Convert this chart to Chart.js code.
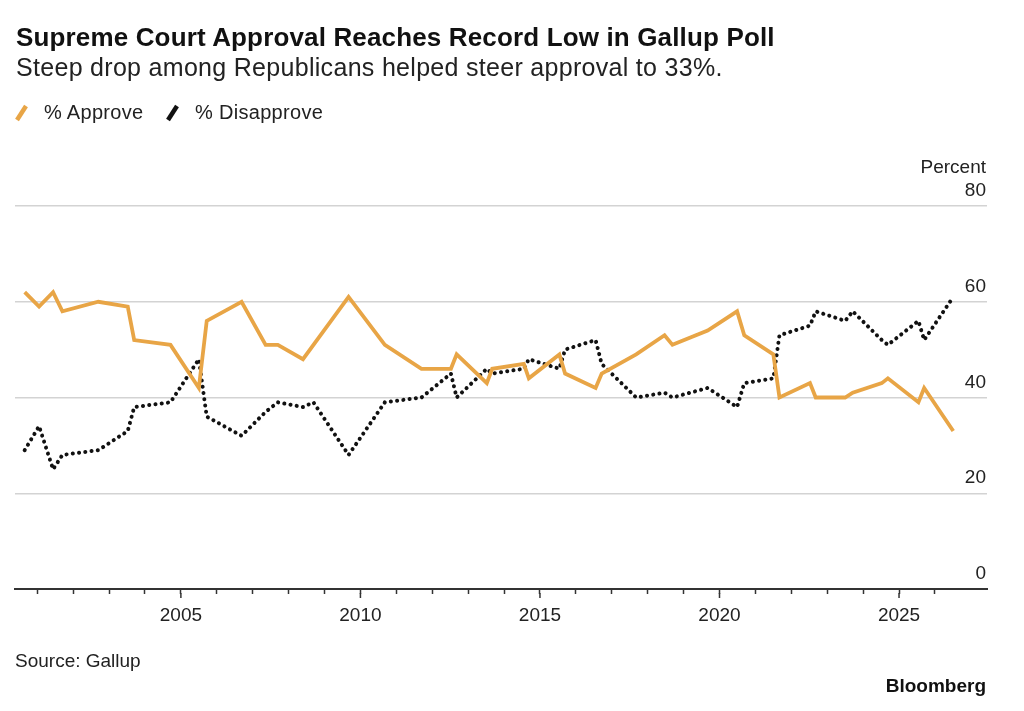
<!DOCTYPE html>
<html>
<head>
<meta charset="utf-8">
<title>Supreme Court Approval</title>
<script src="https://cdn.jsdelivr.net/npm/chart.js@4.4.1/dist/chart.umd.min.js"></script>
<style>
  body { margin: 0; background: #fff; font-family: "Liberation Sans", Arial, sans-serif; color: #111; }
  #wrap { position: relative; width: 1024px; height: 711px; overflow: hidden; }
  #chart { position: absolute; left: 0; top: 0; }
  .t { position: absolute; white-space: nowrap; z-index: 2; }
  #title { left: 16px; top: 24px; font-size: 26px; line-height: 26px; font-weight: bold; letter-spacing: 0.15px; }
  #subtitle { left: 16px; top: 55px; font-size: 25px; line-height: 25px; letter-spacing: 0.3px; color: #222; }
  .leg { top: 102px; font-size: 20px; line-height: 20px; letter-spacing: 0.3px; color: #222; }
  #source { left: 15px; top: 651px; font-size: 19px; line-height: 19px; color: #222; }
  #brand { right: 38px; top: 676px; font-size: 19px; line-height: 19px; font-weight: bold; }
  #icons { position: absolute; left: 0; top: 0; z-index: 2; }
</style>
</head>
<body>
<div id="wrap">
  <canvas id="chart" width="1024" height="711"></canvas>
  <div class="t" id="title">Supreme Court Approval Reaches Record Low in Gallup Poll</div>
  <div class="t" id="subtitle">Steep drop among Republicans helped steer approval to 33%.</div>
  <svg id="icons" width="330" height="140">
    <line x1="17" y1="120" x2="26" y2="106" stroke="#E8A546" stroke-width="4.5"/>
    <line x1="168" y1="120" x2="177" y2="106" stroke="#111" stroke-width="4.5"/>
  </svg>
  <div class="t leg" style="left:44px">% Approve</div>
  <div class="t leg" style="left:195px">% Disapprove</div>
  <div class="t" id="source">Source: Gallup</div>
  <div class="t" id="brand">Bloomberg</div>
</div>
<script>
// poll dates as decimal years
const dates = [
  2000.65, 2001.05, 2001.44, 2001.70, 2002.70, 2003.52, 2003.70, 2004.71,
  2005.50, 2005.72, 2006.69, 2007.36, 2007.70, 2008.40, 2008.69, 2009.67,
  2010.68, 2011.70, 2012.52, 2012.68, 2013.52, 2013.67, 2014.55, 2014.69,
  2015.54, 2015.70, 2016.55, 2016.72, 2017.68, 2018.47, 2018.69, 2019.67,
  2020.49, 2020.69, 2021.50, 2021.67, 2022.52, 2022.68, 2023.50, 2023.71,
  2024.52, 2024.69, 2025.54, 2025.70, 2026.51
];
const approve = [
  62, 59, 62, 58, 60, 59, 52, 51,
  42, 56, 60, 51, 51, 48, null, 61,
  51, 46, 46, 49, 43, 46, 47, 44,
  49, 45, 42, 45, 49, 53, 51, 54,
  58, 53, 49, 40, 43, 40, 40, 41,
  43, 44, 39, 42, 33
];
const disapprove = [
  29, 34, 25, 28, 29, 33, 38, 39,
  48, 36, 32, 37, 39, 38, 39, 28,
  39, 40, 45, 40, 46, 45, 46, 48,
  46, 50, 52, 47, 40, 41, 40, 42,
  38, 43, 44, 53, 55, 58, 56, 58,
  52, 51, 56, 52, 61
];
const tickYears = [
  2001, 2002, 2003, 2004, 2005, 2006, 2007, 2008, 2009, 2010, 2011, 2012, 2013,
  2014, 2015, 2016, 2017, 2018, 2019, 2020, 2021, 2022, 2023, 2024, 2025, 2026
];
const yTicks = [0, 20, 40, 60, 80];

const orange = "#E8A546";
const fontFamily = '"Liberation Sans", Arial, sans-serif';

// y labels sit above the gridlines on the right, plus longer ticks on labelled years
const axisText = {
  id: "axisText",
  afterDraw(chart) {
    const ctx = chart.ctx;
    const x = chart.scales.x;
    const y = chart.scales.y;
    const right = chart.chartArea.right - 1;
    ctx.save();
    ctx.fillStyle = "#222";
    ctx.font = "19px " + fontFamily;
    ctx.textAlign = "right";
    ctx.textBaseline = "alphabetic";
    yTicks.forEach(v => ctx.fillText(String(v), right, y.getPixelForValue(v) - 10));
    ctx.fillText("Percent", right, y.getPixelForValue(80) - 33);

    ctx.strokeStyle = "#333";
    ctx.lineWidth = 1.5;
    const base = chart.chartArea.bottom;
    tickYears.filter(v => v % 5 === 0).forEach(v => {
      const px = x.getPixelForValue(v);
      ctx.beginPath();
      ctx.moveTo(px, base + 4);
      ctx.lineTo(px, base + 9);
      ctx.stroke();
    });
    ctx.restore();
  }
};

new Chart(document.getElementById("chart"), {
  type: "line",
  data: {
    datasets: [
      {
        label: "% Approve",
        data: dates.map((d, i) => ({ x: d, y: approve[i] })),
        borderColor: orange,
        borderWidth: 3.8,
        pointRadius: 0,
        tension: 0,
        spanGaps: true
      },
      {
        label: "% Disapprove",
        data: dates.map((d, i) => ({ x: d, y: disapprove[i] })),
        borderColor: "#111",
        borderWidth: 4,
        borderDash: [0.1, 6.2],
        borderCapStyle: "round",
        pointRadius: 0,
        tension: 0,
        spanGaps: true
      }
    ]
  },
  options: {
    responsive: false,
    animation: false,
    layout: { padding: { left: 15, right: 37, top: 206, bottom: 82 } },
    plugins: {
      legend: { display: false },
      tooltip: { enabled: false }
    },
    scales: {
      x: {
        type: "linear",
        min: 2000.38,
        max: 2027.45,
        afterBuildTicks: scale => { scale.ticks = tickYears.map(v => ({ value: v })); },
        afterFit: scale => { scale.height = 40; },
        grid: { drawOnChartArea: false, tickLength: 5, tickColor: "#333", tickWidth: 1.5 },
        border: { color: "#333", width: 2 },
        ticks: {
          autoSkip: false,
          maxRotation: 0,
          padding: 10,
          color: "#222",
          font: { size: 19, family: fontFamily },
          callback: v => (v % 5 === 0 ? String(v) : "")
        }
      },
      y: {
        position: "right",
        min: 0,
        max: 80,
        afterBuildTicks: scale => { scale.ticks = yTicks.map(v => ({ value: v })); },
        afterFit: scale => { scale.width = 0; },
        grid: { color: "#d3d3d3", lineWidth: 1.5, drawTicks: false },
        border: { display: false },
        ticks: { display: false }
      }
    }
  },
  plugins: [axisText]
});
</script>
</body>
</html>
